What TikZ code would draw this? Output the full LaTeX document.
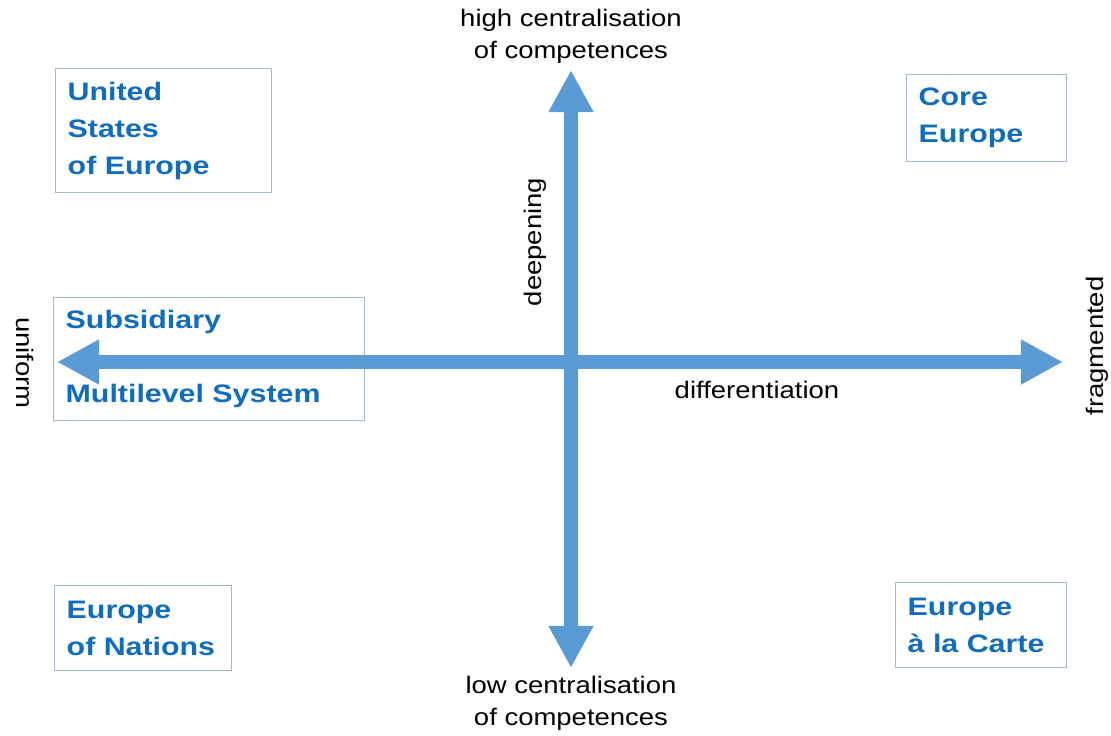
\documentclass[tikz,border=0pt]{standalone}
\usepackage{fontspec}
\setmainfont{Liberation Sans}
\newfontfamily\boxfont[FakeStretch=1.2]{Liberation Sans}
\newfontfamily\axisfont[FakeStretch=1.15]{Liberation Sans}
\usepackage{tikz}
\usetikzlibrary{positioning}
\usetikzlibrary{arrows.meta}

\definecolor{arrowblue}{RGB}{91,155,213}
\definecolor{textblue}{RGB}{16,108,190}
\definecolor{boxline}{RGB}{168,184,204}

\begin{document}
\begin{tikzpicture}[
    scenario/.style={
        draw=boxline, line width=1pt, anchor=north west, inner xsep=0.3cm, inner ysep=0pt,
        align=left, text=textblue, font=\boxfont\bfseries\fontsize{18pt}{26.3pt}\selectfont
      },
    axis/.style={
        line width=10pt, draw=arrowblue,
        {Triangle[width=30pt,length=30pt]}-{Triangle[width=30pt,length=30pt]}
      },
    axislabel/.style={
        inner sep=0pt, align=center, text=black, font=\axisfont\fontsize{17pt}{22.8pt}\selectfont
      },
  ]

  \useasboundingbox (-14.275,9.05) rectangle (13.5,-9.325);

  \coordinate (O) at (0, 0);
  \coordinate [above=7.3cm of O] (T);
  \coordinate [below=7.65cm of O] (B);
  \coordinate [left=12.85cm of O] (L);
  \coordinate [right=12.3cm of O] (R);

  \node [scenario, text width=4.8cm, minimum height=3.1cm] (USE) at (-12.9, 7.35) {United\\States\\of Europe};
  \node [scenario, text width=7.175cm, minimum height=3.075cm] (SMS) at (-12.95, 1.625) {Subsidiary\\[26.3pt]Multilevel System};
  \node [scenario, text width=3.4cm, minimum height=2.175cm] (CE) at (8.375, 7.2) {Core\\Europe};
  \node [scenario, text width=3.825cm, minimum height=2.125cm] (EN) at (-12.925, -5.575) {Europe\\of Nations};
  \node [scenario, text width=3.675cm, minimum height=2.125cm] (EC) at (8.1, -5.5) {Europe\\à la Carte};

  \draw [axis] (B) -- (T);
  \draw [axis] (L) -- (R);

  \node [axislabel, above=0.15cm of T] (HI) {high centralisation\\of competences};
  \node [axislabel, below=0.2cm of B] (LO) {low centralisation\\of competences};
  \node [axislabel, rotate=90] (DEEP) at (-0.9, 3.0) {deepening};
  \node [axislabel] (DIFF) at (4.65, -0.7) {differentiation};
  \node [axislabel, rotate=-90] (UNI) at (-13.65, -0.025) {uniform};
  \node [axislabel, rotate=90] (FRAG) at (13.15, 0.4) {fragmented};

\end{tikzpicture}
\end{document}
